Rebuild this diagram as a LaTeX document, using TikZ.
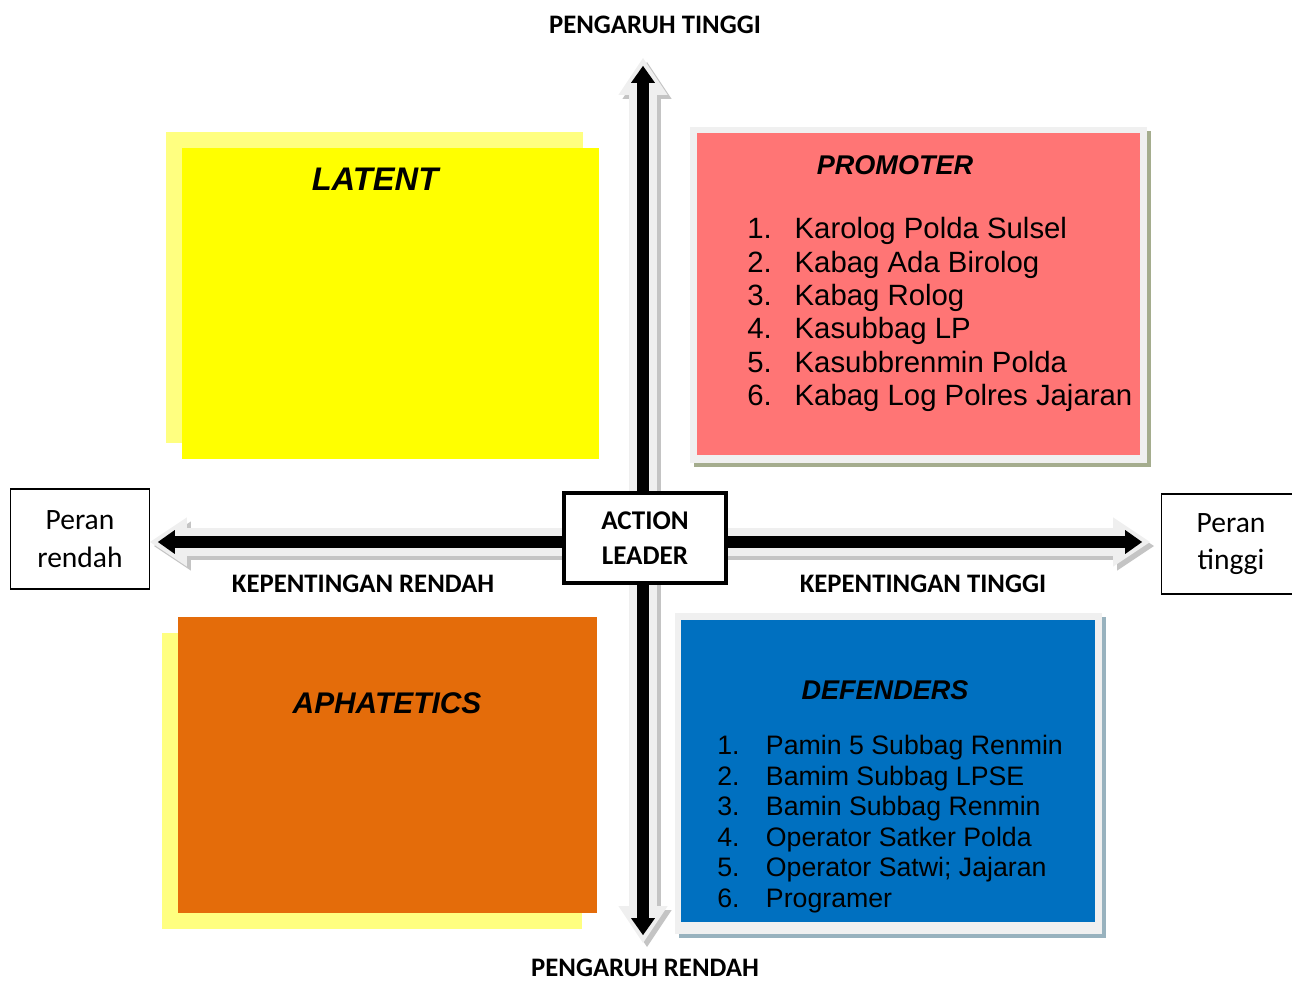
\documentclass[tikz,border=0pt]{standalone}
\usepackage{fontspec}
\setmainfont{Liberation Sans}
\newfontfamily\calibri{Carlito}
\usetikzlibrary{arrows.meta,positioning}
\definecolor{latentyel}{HTML}{FFFF00}
\definecolor{paleyel}{HTML}{FFFF80}
\definecolor{promred}{HTML}{FF7575}
\definecolor{apaorange}{HTML}{E46C0A}
\definecolor{defblue}{HTML}{0070C0}
\definecolor{framegray}{HTML}{F0F0F0}
\definecolor{olive}{HTML}{A5AD8E}
\definecolor{bluegray}{HTML}{98B2BE}
\definecolor{axisgr}{HTML}{EFEFEF}
\definecolor{axisshadow}{HTML}{C4C4C4}
\newcommand{\numlist}[2]{\begin{tabular}{@{}r@{\hspace{#1}}l@{}}#2\end{tabular}}

\begin{document}
\begin{tikzpicture}[x=0.02cm,y=-0.02cm,
  axisgray/.style={line width=15.5pt, draw=axisgr,
    {Triangle[length=21pt,width=28pt,line width=0pt]}-{Triangle[length=21pt,width=28pt,line width=0pt]}},
  axisblack/.style={line width=6.6pt, draw=black, shorten <=4.5pt, shorten >=4.5pt,
    {Triangle[length=9.6pt,width=13.6pt,line width=0pt]}-{Triangle[length=9.6pt,width=13.6pt,line width=0pt]}},
  quadtitle/.style={font=\bfseries\itshape\fontsize{15.4}{18}\selectfont, inner sep=0pt},
  axislabel/.style={font=\calibri\bfseries\fontsize{15.2}{18}\selectfont, inner sep=0pt},
  roleblock/.style={draw, line width=0.8pt, fill=white, minimum width=79pt, minimum height=57pt,
    align=center, font=\calibri\fontsize{16.8}{21.5}\selectfont},
]
\useasboundingbox (0,0) rectangle (1292,982);

% quadrant boxes
\fill[paleyel] (166,132) rectangle (583,443);
\fill[latentyel] (182,148) rectangle (599,459);
\fill[olive] (694,131) rectangle (1151,467);
\fill[framegray] (690,127) rectangle (1147,463);
\fill[promred] (697,133) rectangle (1140,455);
\fill[paleyel] (162,633) rectangle (582,929);
\fill[apaorange] (178,617) rectangle (597,913);
\fill[bluegray] (679,617) rectangle (1106,938);
\fill[framegray] (675,613) rectangle (1102,934);
\fill[defblue] (681,620) rectangle (1095,922);

% axes
\coordinate (west) at (150,542);
\coordinate (east) at (1150,542);
\coordinate (north) at (643,58);
\coordinate (south) at (643,943);
\draw[axisgray, draw=axisshadow, transform canvas={xshift=2.3pt,yshift=-2.3pt}] (west) -- (east);
\draw[axisgray, draw=axisshadow, transform canvas={xshift=2.3pt,yshift=-2.3pt}] (north) -- (south);
\draw[axisgray] (west) -- (east);
\draw[axisgray] (north) -- (south);
\draw[axisblack] (west) -- (east);
\draw[axisblack] (north) -- (south);

\node[draw, line width=2.3pt, fill=white, minimum width=92pt, minimum height=51pt, align=center,
  font=\calibri\bfseries\fontsize{15.4}{20}\selectfont] (lead) at (645,538) {ACTION\\LEADER};

% axis labels
\node[axislabel] (hiinf) at (655,25) {PENGARUH TINGGI};
\node[axislabel] (loinf) at (645,968) {PENGARUH RENDAH};
\node[axislabel] (loint) at (363,584) {KEPENTINGAN RENDAH};
\node[axislabel] (hiint) at (923,584) {KEPENTINGAN TINGGI};
\node[roleblock] (lorole) at (80,539) {Peran\\rendah};
\node[roleblock] (hirole) at (1231,544) {Peran\\tinggi};

% quadrant titles
\node[quadtitle, font=\bfseries\itshape\fontsize{18.6}{20}\selectfont] (latent) at (375,179) {LATENT};
\node[quadtitle] (promoter) at (895,165) {PROMOTER};
\node[quadtitle, font=\bfseries\itshape\fontsize{17}{20}\selectfont] (aphat) at (387,703) {APHATETICS};
\node[quadtitle] (defend) at (885,690) {DEFENDERS};

% member lists
\node[anchor=north west, inner sep=0pt, font=\fontsize{16.7}{19}\selectfont] (promlist) at (747,215)
  {\numlist{13pt}{1. & Karolog Polda Sulsel\\ 2. & Kabag Ada Birolog\\ 3. & Kabag Rolog\\
   4. & Kasubbag LP\\ 5. & Kasubbrenmin Polda\\ 6. & Kabag Log Polres Jajaran}};
\node[anchor=north west, inner sep=0pt, font=\fontsize{15.2}{17.35}\selectfont] (deflist) at (717,733)
  {\numlist{15pt}{1. & Pamin 5 Subbag Renmin\\ 2. & Bamim Subbag LPSE\\ 3. & Bamin Subbag Renmin\\
   4. & Operator Satker Polda\\ 5. & Operator Satwi; Jajaran\\ 6. & Programer}};
\end{tikzpicture}
\end{document}
